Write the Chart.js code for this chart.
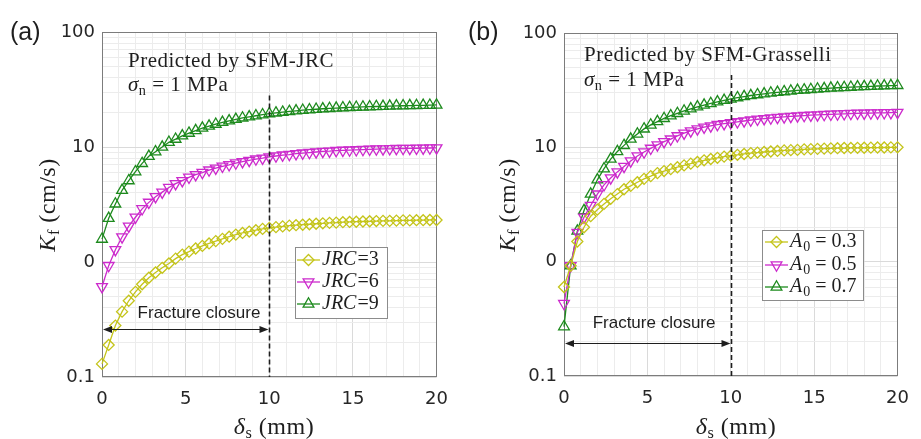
<!DOCTYPE html>
<html>
<head>
<meta charset="utf-8">
<script src="https://cdn.jsdelivr.net/npm/chart.js@4.4.1/dist/chart.umd.min.js"></script>
<style>
  body { margin: 0; background: #fff; width: 921px; height: 439px; position: relative; overflow: hidden; color: #1e1e1e; }
  canvas { position: absolute; top: 0; }
  #ca { left: 0; }
  #cb { left: 460px; }
  .t { position: absolute; white-space: nowrap; line-height: 1; }
  .sans { font-family: "Liberation Sans", Arial, sans-serif; }
  .serif { font-family: "Liberation Serif", "Times New Roman", serif; }
  .panel { font-size: 25px; }
  .note { font-size: 21px; letter-spacing: 0.5px; }
  .ttl { font-size: 24px; letter-spacing: 0.5px; transform: translate(-50%, -50%); }
  .ylab { transform: translate(-50%, -50%) rotate(-90deg); }
  sub { font-size: 68%; vertical-align: -0.25em; line-height: 0; }
  i { font-style: italic; }
</style>
</head>
<body>
<canvas id="ca" width="460" height="439"></canvas>
<canvas id="cb" width="461" height="439"></canvas>

<div class="t sans panel" style="left:10px;top:19px">(a)</div>
<div class="t sans panel" style="left:468px;top:19px">(b)</div>

<div class="t serif note" style="left:128px;top:50px">Predicted by SFM-JRC</div>
<div class="t serif note" style="left:128px;top:74px"><i>σ</i><sub>n</sub> = 1 MPa</div>
<div class="t serif note" style="left:584px;top:44px">Predicted by SFM-Grasselli</div>
<div class="t serif note" style="left:584px;top:69px"><i>σ</i><sub>n</sub> = 1 MPa</div>

<div class="t serif ttl" style="left:274px;top:426px"><i>δ</i><sub>s</sub> (mm)</div>
<div class="t serif ttl" style="left:736px;top:426px"><i>δ</i><sub>s</sub> (mm)</div>
<div class="t serif ttl ylab" style="left:47px;top:205px"><i>K</i><sub>f</sub> (cm/s)</div>
<div class="t serif ttl ylab" style="left:507px;top:205px"><i>K</i><sub>f</sub> (cm/s)</div>

<script>
// shear displacement (mm)
const xValues = [0, 0.4, 0.8, 1.2, 1.6, 2, 2.4, 2.8, 3.2, 3.6, 4, 4.4, 4.8, 5.2, 5.6, 6, 6.4, 6.8, 7.2, 7.6,
  8, 8.4, 8.8, 9.2, 9.6, 10, 10.4, 10.8, 11.2, 11.6, 12, 12.4, 12.8, 13.2, 13.6, 14, 14.4, 14.8, 15.2, 15.6,
  16, 16.4, 16.8, 17.2, 17.6, 18, 18.4, 18.8, 19.2, 19.6, 20];

// (a) SFM-JRC, Kf in cm/s
const jrc3 = [0.13, 0.19, 0.28, 0.37, 0.46, 0.55, 0.64, 0.73, 0.81, 0.89, 0.97, 1.07, 1.16, 1.23, 1.31, 1.38, 1.45, 1.52, 1.59, 1.66,
  1.73, 1.79, 1.84, 1.89, 1.94, 1.98, 2.01, 2.04, 2.07, 2.09, 2.11, 2.13, 2.15, 2.17, 2.19, 2.2, 2.22, 2.23, 2.24, 2.25,
  2.26, 2.27, 2.28, 2.28, 2.29, 2.3, 2.3, 2.31, 2.31, 2.32, 2.32];
const jrc6 = [0.61, 0.93, 1.28, 1.65, 2.05, 2.45, 2.9, 3.3, 3.7, 4.05, 4.45, 4.8, 5.1, 5.45, 5.75, 6.0, 6.3, 6.55, 6.8, 7.0,
  7.25, 7.45, 7.65, 7.85, 8.0, 8.2, 8.35, 8.5, 8.6, 8.75, 8.85, 8.95, 9.05, 9.15, 9.2, 9.3, 9.35, 9.4, 9.45, 9.5,
  9.55, 9.6, 9.62, 9.65, 9.68, 9.7, 9.72, 9.75, 9.77, 9.8, 9.82];
const jrc9 = [1.58, 2.4, 3.2, 4.2, 5.1, 6.1, 7.2, 8.3, 9.1, 10.0, 11.0, 11.7, 12.5, 13.2, 13.9, 14.6, 15.2, 15.8, 16.4, 16.9,
  17.4, 17.9, 18.3, 18.7, 19.1, 19.5, 19.8, 20.1, 20.4, 20.65, 20.9, 21.1, 21.3, 21.5, 21.65, 21.8, 21.95, 22.1, 22.2, 22.3,
  22.4, 22.5, 22.6, 22.7, 22.8, 22.85, 22.9, 23.0, 23.05, 23.1, 23.2];

// (b) SFM-Grasselli, Kf in cm/s
const a03 = [0.6, 0.92, 1.5, 2.0, 2.5, 2.85, 3.2, 3.55, 3.9, 4.3, 4.6, 4.95, 5.3, 5.6, 5.95, 6.2, 6.45, 6.7, 6.95, 7.2,
  7.45, 7.7, 7.9, 8.1, 8.3, 8.45, 8.6, 8.75, 8.9, 9.0, 9.1, 9.2, 9.3, 9.4, 9.45, 9.5, 9.6, 9.65, 9.7, 9.75,
  9.8, 9.83, 9.86, 9.88, 9.9, 9.92, 9.94, 9.96, 9.97, 9.99, 10.0];
const a05 = [0.43, 0.92, 1.8, 2.45, 3.1, 3.9, 4.7, 5.4, 6.1, 6.8, 7.6, 8.4, 9.1, 9.8, 10.5, 11.2, 11.8, 12.6, 13.3, 13.9,
  14.5, 15.0, 15.4, 15.8, 16.1, 16.4, 16.7, 17.0, 17.3, 17.6, 17.8, 18.05, 18.25, 18.45, 18.65, 18.8, 18.95, 19.1, 19.2, 19.35,
  19.45, 19.55, 19.65, 19.75, 19.85, 19.9, 19.95, 20.0, 20.05, 20.1, 20.2];
const a07 = [0.27, 0.92, 1.85, 2.8, 3.9, 5.2, 6.5, 7.9, 9.2, 10.4, 11.8, 13.1, 14.5, 15.7, 16.8, 17.9, 18.9, 19.8, 20.8, 21.7,
  22.6, 23.4, 24.2, 25.0, 25.8, 26.5, 27.2, 27.8, 28.4, 28.9, 29.4, 29.9, 30.3, 30.7, 31.1, 31.5, 31.8, 32.1, 32.4, 32.7,
  33.0, 33.2, 33.4, 33.6, 33.8, 34.0, 34.2, 34.4, 34.5, 34.7, 34.8];

const yTickValues = [0.1, 1, 10, 100];
const yTickLabels = ['0.1', '0', '10', '100'];
const xTickValues = [0, 5, 10, 15, 20];
const closureEnd = 10;
const closureLabel = 'Fracture closure';

// legend labels: [text, 'i' italic | 's' subscript | '' upright]
const legendA = [[['JRC', 'i'], ['=3', '']], [['JRC', 'i'], ['=6', '']], [['JRC', 'i'], ['=9', '']]];
const legendB = [[['A', 'i'], ['0', 's'], [' = 0.3', '']], [['A', 'i'], ['0', 's'], [' = 0.5', '']], [['A', 'i'], ['0', 's'], [' = 0.7', '']]];

const YEL = '#c4c41a', MAG = '#cc2acc', GRN = '#1d8a1d';
const TICK_FONT = { family: '"DejaVu Sans", sans-serif', size: 18 };
const SERIF = '"Liberation Serif", "Times New Roman", serif';

function series(label, data, color, style, rot) {
  return {
    label,
    data: data.map((v, i) => ({ x: xValues[i], y: v })),
    borderColor: color, backgroundColor: 'transparent', borderWidth: 1.3,
    pointStyle: style, rotation: rot, pointRadius: style === 'rectRot' ? 5.5 : 6.2,
    pointBorderWidth: 1.3, pointBorderColor: color, pointBackgroundColor: 'transparent',
    tension: 0, clip: false,
  };
}

function marker(ctx, style, rot, r, x, y) {
  ctx.beginPath();
  if (style === 'rectRot') {
    ctx.moveTo(x, y - r); ctx.lineTo(x + r, y); ctx.lineTo(x, y + r); ctx.lineTo(x - r, y);
  } else {
    const s = rot === 180 ? -1 : 1;
    ctx.moveTo(x, y - s * r);
    ctx.lineTo(x + r * 0.866, y + s * r * 0.5);
    ctx.lineTo(x - r * 0.866, y + s * r * 0.5);
  }
  ctx.closePath();
  ctx.stroke();
}

function arrowHead(ctx, x, y, dir) {
  ctx.beginPath();
  ctx.moveTo(x, y);
  ctx.lineTo(x + dir * 9, y - 3.5);
  ctx.lineTo(x + dir * 9, y + 3.5);
  ctx.closePath();
  ctx.fill();
}

const decor = {
  id: 'decor',
  beforeDatasetsDraw(chart) {
    const { ctx, chartArea: a } = chart;
    ctx.save();
    ctx.strokeStyle = '#7c7c7c'; ctx.lineWidth = 1;
    ctx.strokeRect(Math.round(a.left) + 0.5, Math.round(a.top) + 0.5, Math.round(a.width) - 1, Math.round(a.height) - 1);
    ctx.restore();
  },
  afterDatasetsDraw(chart, args, o) {
    const { ctx, chartArea: a, scales: { x, y } } = chart;
    ctx.save();
    // closure limit
    const xd = Math.round(x.getPixelForValue(closureEnd)) + 0.5;
    ctx.strokeStyle = '#1e1e1e'; ctx.lineWidth = 1.6; ctx.setLineDash([5, 3]);
    ctx.beginPath(); ctx.moveTo(xd, y.getPixelForValue(o.dashTop)); ctx.lineTo(xd, a.bottom); ctx.stroke();
    ctx.setLineDash([]);

    // double arrow + label
    const ya = Math.round(y.getPixelForValue(o.arrowY)) + 0.5;
    const x0 = x.getPixelForValue(0) + 1, x1 = xd - 1;
    ctx.lineWidth = 1; ctx.fillStyle = '#1e1e1e';
    ctx.beginPath(); ctx.moveTo(x0 + 4, ya); ctx.lineTo(x1 - 4, ya); ctx.stroke();
    arrowHead(ctx, x0, ya, 1); arrowHead(ctx, x1, ya, -1);
    ctx.font = '17px "Liberation Sans", Arial, sans-serif';
    ctx.textAlign = 'center'; ctx.textBaseline = 'middle';
    ctx.fillText(closureLabel, x.getPixelForValue(o.textX), y.getPixelForValue(o.textY));

    // legend
    const L = o.legend;
    ctx.fillStyle = '#fff'; ctx.fillRect(L.x, L.y, L.w, L.h);
    ctx.strokeStyle = '#8c8c8c'; ctx.lineWidth = 1;
    ctx.strokeRect(L.x + 0.5, L.y + 0.5, L.w, L.h);
    chart.data.datasets.forEach((ds, i) => {
      const yy = L.rows[i];
      ctx.strokeStyle = ds.borderColor; ctx.lineWidth = 1.3;
      ctx.beginPath(); ctx.moveTo(L.lx0, yy); ctx.lineTo(L.lx1, yy); ctx.stroke();
      marker(ctx, ds.pointStyle, ds.rotation, ds.pointRadius, (L.lx0 + L.lx1) / 2, yy);
      let tx = L.tx;
      ctx.fillStyle = '#1e1e1e'; ctx.textAlign = 'left'; ctx.textBaseline = 'middle';
      for (const [txt, kind] of o.labels[i]) {
        if (kind === 's') {
          ctx.font = '14px ' + SERIF;
          ctx.fillText(txt, tx, yy + 5);
        } else {
          ctx.font = (kind === 'i' ? 'italic ' : '') + '20px ' + SERIF;
          ctx.fillText(txt, tx, yy);
        }
        tx += ctx.measureText(txt).width + (kind === 'i' ? 1 : 0);
      }
    });
    ctx.restore();
  }
};

function minorLog() {
  const v = [];
  for (let d = 0.1; d < 100; d *= 10) for (let k = 1; k <= 10; k++) v.push(+(d * k).toPrecision(3));
  return [...new Set(v)];
}
const isMajorY = v => yTickValues.some(t => Math.abs(t - v) < 1e-9);

function makeChart(id, datasets, cfg) {
  return new Chart(document.getElementById(id), {
    type: 'line',
    data: { datasets },
    options: {
      responsive: false, animation: false, devicePixelRatio: 1,
      layout: { padding: { top: cfg.top, right: cfg.right, left: 0, bottom: 0 } },
      plugins: {
        legend: { display: false }, tooltip: { enabled: false },
        decor: cfg.decor,
      },
      scales: {
        x: {
          type: 'linear', min: 0, max: 20,
          border: { display: false },
          grid: { color: c => (c.tick && xTickValues.includes(c.tick.value)) ? '#dadada' : '#ececec', drawTicks: false },
          ticks: {
            stepSize: 1, autoSkip: false, maxRotation: 0, padding: 12, color: '#262626', font: TICK_FONT,
            callback: v => xTickValues.includes(v) ? String(v) : '',
          },
          afterFit: s => { s.height = cfg.xh; },
        },
        y: {
          type: 'logarithmic', min: 0.1, max: 100,
          border: { display: false },
          grid: { color: c => (c.tick && isMajorY(c.tick.value)) ? '#dadada' : '#ececec', drawTicks: false },
          ticks: {
            autoSkip: false, padding: 7, color: '#262626', font: TICK_FONT,
            callback: v => { const i = yTickValues.findIndex(t => Math.abs(t - v) < 1e-9); return i >= 0 ? yTickLabels[i] : ''; },
          },
          afterBuildTicks: s => { s.ticks = minorLog().map(v => ({ value: v })); },
          afterFit: s => { s.width = cfg.yw; },
        },
      },
    },
    plugins: [decor],
  });
}

makeChart('ca', [
  series('JRC=3', jrc3, YEL, 'rectRot', 0),
  series('JRC=6', jrc6, MAG, 'triangle', 180),
  series('JRC=9', jrc9, GRN, 'triangle', 0),
], {
  top: 32, right: 15, yw: 102, xh: 62,
  decor: {
    dashTop: 28, arrowY: 0.26, textX: 5.8, textY: 0.36, labels: legendA,
    legend: { x: 295, y: 247, w: 92, h: 71, rows: [260, 282, 304], lx0: 297, lx1: 320, tx: 322 },
  },
});

makeChart('cb', [
  series('A0 = 0.3', a03, YEL, 'rectRot', 0),
  series('A0 = 0.5', a05, MAG, 'triangle', 180),
  series('A0 = 0.7', a07, GRN, 'triangle', 0),
], {
  top: 33, right: 13, yw: 104, xh: 63,
  decor: {
    dashTop: 43, arrowY: 0.196, textX: 5.4, textY: 0.29, labels: legendB,
    legend: { x: 302, y: 230, w: 101, h: 70, rows: [242, 265, 287], lx0: 305, lx1: 328, tx: 330 },
  },
});
</script>
</body>
</html>
